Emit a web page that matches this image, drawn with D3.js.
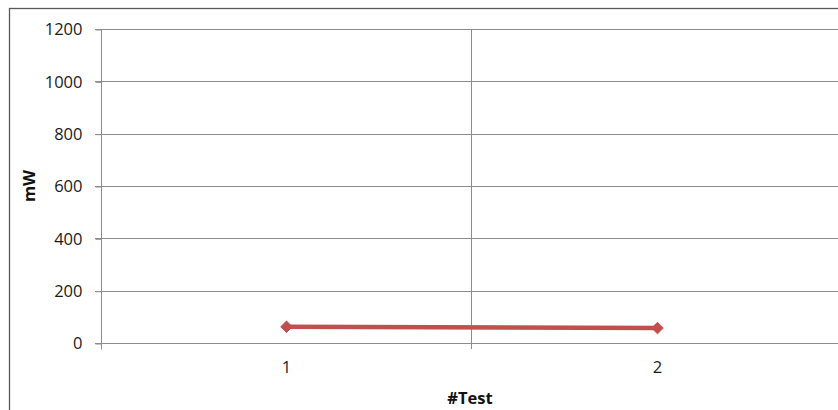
<!DOCTYPE html>
<html>
<head>
<meta charset="utf-8">
<script src="https://cdn.jsdelivr.net/npm/d3@7"></script>
<style>
  html, body { margin: 0; padding: 0; background: #fff; }
  svg { display: block; }
  text { font-family: "Open Sans", "Noto Sans", sans-serif; }
</style>
</head>
<body>
<svg id="chart" width="838" height="410"></svg>
<script>
const categories = ["1", "2"];
const values = [62, 57];
const yTicks = [0, 200, 400, 600, 800, 1000, 1200];
const xTitle = "#Test";
const yTitle = "mW";

const svg = d3.select("#chart");
const W = 838, H = 410;
const plot = { left: 101, right: 843, top: 29, bottom: 343 };
const FS = 16.5;

// outer chart border (extends past the window)
svg.append("rect")
  .attr("x", 9.5).attr("y", 8.5)
  .attr("width", 900).attr("height", 500)
  .attr("fill", "#fff").attr("stroke", "#5a5a5a").attr("stroke-width", 1.3);

const x = d3.scaleBand().domain(categories).range([plot.left, plot.right]).padding(0);
const y = d3.scaleLinear().domain([0, 1200]).range([plot.bottom, plot.top]);

// horizontal gridlines
svg.append("g").selectAll("line").data(yTicks.filter(d => d > 0)).join("line")
  .attr("x1", plot.left - 6).attr("x2", W)
  .attr("y1", d => Math.round(y(d)) + 0.5).attr("y2", d => Math.round(y(d)) + 0.5)
  .attr("stroke", "#8c8c8c").attr("stroke-width", 1);

// vertical gridlines between categories
const boundaries = categories.slice(1).map(c => x(c));
svg.append("g").selectAll("line").data(boundaries).join("line")
  .attr("x1", d => Math.round(d) - 0.5).attr("x2", d => Math.round(d) - 0.5)
  .attr("y1", plot.top).attr("y2", plot.bottom + 6)
  .attr("stroke", "#8c8c8c").attr("stroke-width", 1);

// y axis
const yAxis = d3.axisLeft(y).tickValues(yTicks).tickSize(6).tickPadding(13).tickFormat(d3.format("d"));
const gy = svg.append("g").attr("transform", `translate(${plot.left + 0.5},0.5)`).call(yAxis);
gy.select(".domain").attr("d", `M0,${plot.top}V${plot.bottom + 6}`).attr("stroke", "#8c8c8c");
gy.selectAll(".tick line").attr("stroke", "#8c8c8c");
gy.selectAll(".tick text").attr("font-size", FS).attr("fill", "#1a1a1a")
  .attr("font-family", "'Open Sans', sans-serif");

// x axis
const xAxis = d3.axisBottom(x).tickSize(0).tickPadding(18);
const gx = svg.append("g").attr("transform", `translate(0,${plot.bottom + 0.5})`).call(xAxis);
gx.select(".domain").attr("d", `M${plot.left - 6},0H${W}`).attr("stroke", "#8c8c8c");
gx.selectAll(".tick text").attr("font-size", FS).attr("fill", "#1a1a1a")
  .attr("font-family", "'Open Sans', sans-serif");

// axis titles
svg.append("text")
  .attr("x", (plot.left + plot.right) / 2 - 2).attr("y", 404)
  .attr("text-anchor", "middle").attr("font-size", FS).attr("font-weight", "bold")
  .attr("fill", "#111").text(xTitle);
svg.append("text")
  .attr("transform", `translate(35,${(plot.top + plot.bottom) / 2}) rotate(-90)`)
  .attr("text-anchor", "middle").attr("font-size", FS).attr("font-weight", "bold")
  .attr("fill", "#111").text(yTitle);

// series line
const cx = d => x(d) + x.bandwidth() / 2;
const line = d3.line().x((d, i) => cx(categories[i])).y(d => y(d));
svg.append("path").datum(values)
  .attr("d", line).attr("fill", "none")
  .attr("stroke", "#c0504d").attr("stroke-width", 4.5).attr("stroke-linecap", "round");

// diamond markers
svg.append("g").selectAll("path").data(values).join("path")
  .attr("transform", (d, i) => `translate(${cx(categories[i])},${y(d)})`)
  .attr("d", d3.symbol(d3.symbolDiamond2, 85)())
  .attr("fill", "#c0504d").attr("stroke", "#c0504d").attr("stroke-width", 1);
</script>
</body>
</html>
